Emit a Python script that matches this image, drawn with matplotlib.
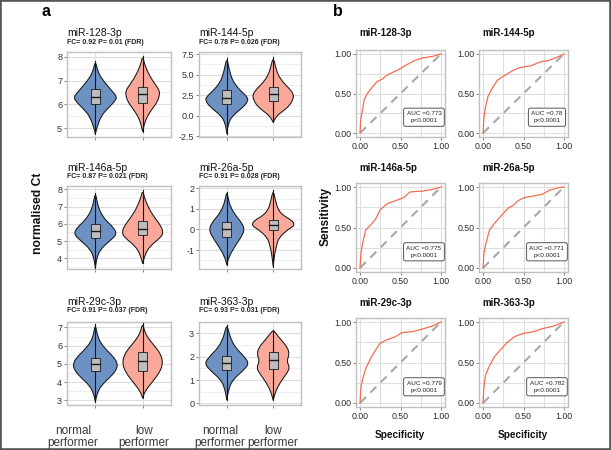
import matplotlib
matplotlib.use("Agg")
import matplotlib.pyplot as plt
from matplotlib.patches import Rectangle, PathPatch
from matplotlib.path import Path

plt.rcParams['font.family'] = ['Liberation Sans', 'DejaVu Sans']

# ---------------- data ----------------
mirnas = ["miR-128-3p", "miR-144-5p", "miR-146a-5p", "miR-26a-5p", "miR-29c-3p", "miR-363-3p"]
fc_values = [0.92, 0.78, 0.87, 0.91, 0.91, 0.93]
p_values = ["0.01", "0.026", "0.021", "0.028", "0.037", "0.031"]
groups = ["normal\nperformer", "low\nperformer"]

y_ticks = [[5, 6, 7, 8], [-2.5, 0, 2.5, 5, 7.5], [4, 5, 6, 7, 8],
           [-1, 0, 1, 2], [3, 4, 5, 6, 7], [0, 1, 2, 3]]
y_tick_labels = [["5", "6", "7", "8"], ["-2.5", "0.0", "2.5", "5.0", "7.5"],
                 ["4", "5", "6", "7", "8"], ["-1", "0", "1", "2"],
                 ["3", "4", "5", "6", "7"], ["0", "1", "2", "3"]]
y_limits = [(4.62, 8.21), (-2.6, 7.75), (3.38, 8.19), (-1.92, 2.11), (2.75, 7.3), (-0.07, 3.49)]

# violin outlines: value levels and half-widths (normal performer)
normal_levels = [
    [4.75, 5.0, 5.5, 5.8, 6.1, 6.3, 6.5, 6.8, 7.1, 7.4, 7.85],
    [-2.2, -1.0, 0.0, 1.0, 1.8, 2.3, 3.0, 4.0, 5.0, 6.0, 7.0],
    [3.45, 4.0, 4.5, 5.0, 5.4, 5.8, 6.2, 6.6, 7.0, 7.4, 7.77],
    [-1.72, -1.3, -0.8, -0.3, 0.0, 0.3, 0.7, 1.1, 1.5, 1.84],
    [2.94, 3.4, 3.8, 4.2, 4.6, 5.0, 5.4, 5.8, 6.2, 6.6, 7.19],
    [0.14, 0.6, 1.0, 1.4, 1.7, 2.0, 2.4, 2.8, 3.1, 3.35],
]
normal_widths = [
    [0, 0.03, 0.12, 0.25, 0.40, 0.46, 0.38, 0.25, 0.13, 0.05, 0],
    [0, 0.03, 0.12, 0.35, 0.46, 0.44, 0.30, 0.15, 0.08, 0.04, 0],
    [0, 0.03, 0.10, 0.30, 0.46, 0.38, 0.22, 0.12, 0.06, 0.03, 0],
    [0, 0.05, 0.18, 0.33, 0.38, 0.33, 0.18, 0.08, 0.03, 0],
    [0, 0.04, 0.12, 0.28, 0.43, 0.48, 0.38, 0.22, 0.10, 0.04, 0],
    [0, 0.04, 0.12, 0.35, 0.48, 0.38, 0.18, 0.08, 0.04, 0],
]
# low performer
low_levels = [
    [4.85, 5.2, 5.5, 5.8, 6.1, 6.4, 6.6, 6.8, 7.1, 7.4, 7.7, 8.05],
    [-0.8, 0.0, 0.5, 1.2, 2.0, 2.6, 3.3, 4.0, 5.0, 6.0, 7.1],
    [3.7, 4.2, 4.7, 5.2, 5.5, 5.9, 6.3, 6.7, 7.1, 7.5, 7.95],
    [-1.8, -1.2, -0.8, -0.4, 0.0, 0.2, 0.45, 0.7, 1.0, 1.4, 1.92],
    [3.13, 3.5, 4.0, 4.5, 5.0, 5.5, 5.9, 6.3, 6.7, 7.25],
    [0.14, 0.5, 0.9, 1.3, 1.55, 1.8, 2.1, 2.4, 2.7, 3.0, 3.14],
]
low_widths = [
    [0, 0.04, 0.10, 0.20, 0.31, 0.36, 0.35, 0.28, 0.18, 0.10, 0.04, 0],
    [0, 0.08, 0.20, 0.35, 0.43, 0.44, 0.35, 0.22, 0.10, 0.05, 0],
    [0, 0.05, 0.15, 0.38, 0.44, 0.38, 0.27, 0.17, 0.10, 0.04, 0],
    [0, 0.03, 0.07, 0.12, 0.32, 0.47, 0.40, 0.20, 0.10, 0.05, 0],
    [0, 0.05, 0.20, 0.35, 0.43, 0.39, 0.28, 0.15, 0.05, 0],
    [0, 0.05, 0.15, 0.30, 0.36, 0.29, 0.35, 0.31, 0.18, 0.06, 0],
]
# box statistics
normal_q1 = [6.0, 1.4, 5.16, -0.38, 4.64, 1.42]
normal_med = [6.3, 2.1, 5.58, 0.02, 5.02, 1.74]
normal_q3 = [6.65, 3.1, 6.0, 0.38, 5.3, 2.02]
low_q1 = [6.05, 1.8, 5.35, -0.02, 4.64, 1.47]
low_med = [6.44, 2.6, 5.68, 0.22, 5.16, 1.84]
low_q3 = [6.72, 3.52, 6.18, 0.46, 5.64, 2.19]

# ROC curves (x = 1 - specificity, y = sensitivity)
roc_x = [
    [0, 0.008, 0.03, 0.05, 0.09, 0.15, 0.21, 0.27, 0.33, 0.41, 0.49, 0.57, 0.68, 0.78, 0.90, 1.0],
    [0, 0.01, 0.03, 0.06, 0.12, 0.18, 0.27, 0.35, 0.41, 0.47, 0.59, 0.71, 0.82, 0.92, 1.0],
    [0, 0.01, 0.03, 0.07, 0.13, 0.19, 0.25, 0.33, 0.46, 0.54, 0.62, 0.78, 0.89, 1.0],
    [0, 0.01, 0.03, 0.08, 0.14, 0.22, 0.31, 0.37, 0.43, 0.51, 0.63, 0.73, 0.82, 0.92, 1.0],
    [0, 0.01, 0.03, 0.07, 0.13, 0.19, 0.25, 0.33, 0.44, 0.52, 0.64, 0.76, 0.89, 1.0],
    [0, 0.01, 0.03, 0.08, 0.14, 0.21, 0.29, 0.39, 0.50, 0.62, 0.74, 0.87, 1.0],
]
roc_y = [
    [0, 0.17, 0.29, 0.42, 0.50, 0.58, 0.65, 0.68, 0.73, 0.77, 0.81, 0.86, 0.92, 0.95, 0.97, 1.0],
    [0, 0.19, 0.33, 0.46, 0.58, 0.67, 0.73, 0.78, 0.81, 0.83, 0.85, 0.90, 0.92, 0.96, 1.0],
    [0, 0.17, 0.30, 0.47, 0.53, 0.60, 0.72, 0.79, 0.84, 0.87, 0.94, 0.95, 0.97, 1.0],
    [0, 0.17, 0.28, 0.47, 0.55, 0.64, 0.74, 0.77, 0.83, 0.87, 0.89, 0.91, 0.96, 0.99, 1.0],
    [0, 0.19, 0.29, 0.42, 0.55, 0.65, 0.74, 0.78, 0.82, 0.87, 0.88, 0.91, 0.95, 1.0],
    [0, 0.19, 0.34, 0.46, 0.57, 0.65, 0.74, 0.82, 0.86, 0.88, 0.92, 0.95, 1.0],
]
auc_values = ["0.773", "0.78", "0.775", "0.771", "0.779", "0.782"]
roc_ticks = [0, 0.5, 1.0]
roc_tick_labels = ["0.00", "0.50", "1.00"]

# ---------------- styling ----------------
W, H = 611, 450
fig = plt.figure(figsize=(W / 100, H / 100), dpi=100)

BLUE = "#6d91c2"
SALMON = "#f9a899"
ROC_RED = "#f36d52"
GRID_MAJ = "#dedede"
GRID_MIN = "#ececec"
SPINE = "#c0c0c0"
TICKC = "#333333"


def px_axes(x0, y0, x1, y1):
    return fig.add_axes([x0 / W, 1 - y1 / H, (x1 - x0) / W, (y1 - y0) / H])


def ftext(x, y, s, **kw):
    fig.text(x / W, 1 - y / H, s, **kw)


def style_panel(ax):
    ax.set_facecolor("white")
    for sp in ax.spines.values():
        sp.set_color(SPINE)
        sp.set_linewidth(1.0)
    ax.tick_params(which="major", length=2, width=0.6, color="#707070",
                   labelsize=6.5, labelcolor=TICKC, pad=1.5)
    ax.tick_params(which="minor", length=0)
    ax.grid(which="major", color=GRID_MAJ, lw=0.8)
    ax.grid(which="minor", color=GRID_MIN, lw=0.6)
    ax.set_axisbelow(True)


def smooth_outline(pts):
    """Smooth path through an outline using quadratic curve segments."""
    verts = [pts[0], ((pts[0][0] + pts[1][0]) / 2, (pts[0][1] + pts[1][1]) / 2)]
    codes = [Path.MOVETO, Path.LINETO]
    for k in range(1, len(pts) - 1):
        mid = ((pts[k][0] + pts[k + 1][0]) / 2, (pts[k][1] + pts[k + 1][1]) / 2)
        verts += [pts[k], mid]
        codes += [Path.CURVE3, Path.CURVE3]
    verts.append(pts[-1])
    codes.append(Path.LINETO)
    verts.append(pts[0])
    codes.append(Path.CLOSEPOLY)
    return Path(verts, codes)


vcols = [(67, 171), (199, 301)]
vrows = [(52, 137), (186, 269), (322, 405)]
vtitle_y = [(33, 43), (168, 177), (302, 311)]

for i, name in enumerate(mirnas):
    r, c = divmod(i, 2)
    x0, x1 = vcols[c]
    y0, y1 = vrows[r]
    ax = px_axes(x0, y0, x1, y1)
    style_panel(ax)
    ax.set_xlim(0.4, 2.6)
    ax.set_xticks([1, 2])
    ax.set_xticklabels(["", ""])
    ax.set_yticks(y_ticks[i])
    ax.set_yticklabels(y_tick_labels[i])
    step = y_ticks[i][1] - y_ticks[i][0]
    minors = [t + step / 2 for t in [y_ticks[i][0] - step] + y_ticks[i]]
    ax.set_yticks(minors, minor=True)
    ax.set_ylim(*y_limits[i])

    for pos, lev, wid, col, q1, med, q3 in [
        (1, normal_levels[i], normal_widths[i], BLUE, normal_q1[i], normal_med[i], normal_q3[i]),
        (2, low_levels[i], low_widths[i], SALMON, low_q1[i], low_med[i], low_q3[i]),
    ]:
        right = [(pos + w, y) for w, y in zip(wid, lev)]
        left = [(pos - w, y) for w, y in zip(wid[::-1], lev[::-1])]
        outline = right + left[1:]
        ax.add_patch(PathPatch(smooth_outline(outline), facecolor=col,
                               edgecolor="#161616", lw=0.75, zorder=2))
        ax.plot([pos, pos], [lev[0], lev[-1]], color="#161616", lw=0.8, zorder=3)
        ax.add_patch(Rectangle((pos - 0.1, q1), 0.2, q3 - q1, facecolor="#bdbdbd",
                               edgecolor="#1a1a1a", lw=0.6, zorder=4))
        ax.plot([pos - 0.1, pos + 0.1], [med, med], color="#1a1a1a", lw=1.0, zorder=5)

    ty, sy = vtitle_y[r]
    ftext(x0, ty, name, fontsize=7.5, ha="left", va="center", color="#111111")
    ftext(x0, sy, f"FC= {fc_values[i]:.2f} P= {p_values[i]} (FDR)", fontsize=5,
          fontweight="bold", ha="left", va="center", color="#222222")

# group labels
for cx, lab in [(73, groups[0]), (144, groups[1]), (220, groups[0]), (273, groups[1])]:
    ftext(cx, 437, lab, fontsize=8.5, ha="center", va="center", color="#3a3a3a",
          linespacing=0.95)

ftext(38, 213, "normalised Ct", fontsize=8.7, fontweight="bold", rotation=90,
      ha="center", va="center", color="#111111")

# ---------------- ROC panels ----------------
rcols = [(356, 445), (479, 568)]
rrows = [(50, 137), (183, 272), (318, 407)]
rtitle_y = [33, 168, 303]

for i, name in enumerate(mirnas):
    r, c = divmod(i, 2)
    x0, x1 = rcols[c]
    y0, y1 = rrows[r]
    ax = px_axes(x0, y0, x1, y1)
    style_panel(ax)
    ax.set_xlim(-0.05, 1.05)
    ax.set_ylim(-0.05, 1.05)
    ax.set_xticks(roc_ticks)
    ax.set_xticklabels(roc_tick_labels)
    ax.set_yticks(roc_ticks)
    ax.set_yticklabels(roc_tick_labels)
    ax.set_xticks([0.25, 0.75], minor=True)
    ax.set_yticks([0.25, 0.75], minor=True)
    ax.grid(which="minor", color=GRID_MAJ, lw=0.8)
    ax.tick_params(which="major", labelsize=6.3, labelcolor="#2a2a2a")
    ax.plot([0, 1], [0, 1], color="#a8a8a8", lw=1.5, dashes=(4, 3), zorder=2)
    ax.plot(roc_x[i], roc_y[i], color=ROC_RED, lw=0.9, zorder=3)
    ax.text(0.79, 0.2, f"AUC ={auc_values[i]}\np<0.0001", fontsize=4.6,
            ha="center", va="center", color="#222222", linespacing=1.6, zorder=5,
            bbox=dict(boxstyle="round,pad=0.45,rounding_size=0.3",
                      facecolor="white", edgecolor="#555555", lw=0.7))
    ftext(x0 + 3, rtitle_y[r], name, fontsize=7, fontweight="bold",
          ha="left", va="center", color="#111111")

ftext(326, 217, "Sensitivity", fontsize=8.5, fontweight="bold", rotation=90,
      ha="center", va="center", color="#111111")
for cx in (400, 523):
    ftext(cx, 435, "Specificity", fontsize=7.2, fontweight="bold",
          ha="center", va="center", color="#111111")

# panel letters
ftext(46, 12, "a", fontsize=11.5, fontweight="bold", ha="center", va="center")
ftext(338, 12, "b", fontsize=11.5, fontweight="bold", ha="center", va="center")

# outer frame
fig.patches.append(Rectangle((0, 0), 1, 1, transform=fig.transFigure, fill=False,
                             edgecolor="#555555", linewidth=2.6))

fig.savefig("out.png", dpi=100)
